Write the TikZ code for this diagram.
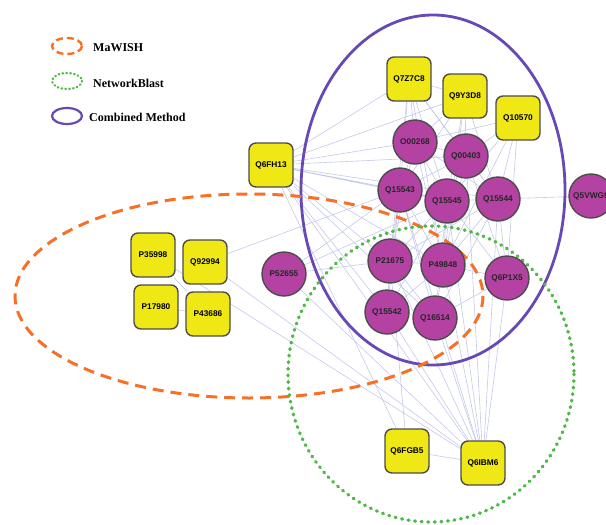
\documentclass[tikz,border=0pt]{standalone}
\usepackage{fontspec}
\setmainfont{Liberation Serif}
\newfontfamily\protfont{Liberation Sans}
\usetikzlibrary{backgrounds}
\definecolor{protyellow}{RGB}{240,232,20}
\definecolor{protpurple}{RGB}{180,66,162}
\definecolor{edgeblue}{RGB}{196,200,234}
\definecolor{mawishorange}{RGB}{246,112,40}
\definecolor{netgreen}{RGB}{80,184,70}
\definecolor{combpurple}{RGB}{102,72,182}

\begin{document}
\begin{tikzpicture}[x=1pt,y=-1pt,
    sq/.style={draw=black!70,fill=protyellow,line width=1.4pt,rounded corners=7pt,minimum size=44pt,inner sep=0pt,font=\protfont\bfseries\fontsize{8.3}{9}\selectfont},
    ci/.style={circle,draw=black!70,fill=protpurple,line width=1.4pt,minimum size=44pt,inner sep=0pt,text=black!85,font=\protfont\bfseries\fontsize{8.3}{9}\selectfont},
    lnk/.style={draw=edgeblue,line width=0.6pt},
    mawish/.style={draw=mawishorange,line width=3pt,dash pattern=on 11pt off 7pt},
    nblast/.style={draw=netgreen,line width=3.4pt,line cap=round,dash pattern=on 0.8pt off 5.8pt},
    comb/.style={draw=combpurple,line width=2.8pt},
    legtxt/.style={anchor=west,inner sep=0pt,font=\bfseries\fontsize{12}{14}\selectfont}]
        \useasboundingbox (0,0) rectangle (606,525);
        % legend
        \draw[mawish,line width=2.4pt,dash pattern=on 7pt off 4pt] (67,46) ellipse (15 and 8);
        \draw[nblast,line width=2.4pt,dash pattern=on 0.5pt off 3.4pt] (67,81) ellipse (15 and 8);
        \draw[comb,line width=2.2pt] (67,116) ellipse (15 and 8);
        \node[legtxt] (l_mawish) at (93,48) {MaWISH};
        \node[legtxt] (l_nblast) at (93,83) {NetworkBlast};
        \node[legtxt] (l_comb) at (89,117) {Combined Method};
        % yellow proteins
        \draw (409,79) node[sq] (q7z7c8){Q7Z7C8};
        \draw (465,96) node[sq] (q9y3d8){Q9Y3D8};
        \draw (518,118) node[sq] (q10570){Q10570};
        \draw (271,165) node[sq] (q6fh13){Q6FH13};
        \draw (153,255) node[sq] (p35998){P35998};
        \draw (205,262) node[sq] (q92994){Q92994};
        \draw (156,307) node[sq] (p17980){P17980};
        \draw (208,314) node[sq] (p43686){P43686};
        \draw (407,451) node[sq] (q6fgb5){Q6FGB5};
        \draw (483,463) node[sq] (q6ibm6){Q6IBM6};
        % purple proteins
        \draw (415,142) node[ci] (o00268){O00268};
        \draw (466,156) node[ci] (q00403){Q00403};
        \draw (400,190) node[ci] (q15543){Q15543};
        \draw (447,201) node[ci] (q15545){Q15545};
        \draw (498,199) node[ci] (q15544){Q15544};
        \draw (591,196) node[ci] (q5vwg9){Q5VWG9};
        \draw (390,261) node[ci] (p21675){P21675};
        \draw (443,265) node[ci] (p49848){P49848};
        \draw (507,278) node[ci] (q6p1x5){Q6P1X5};
        \draw (387,312) node[ci] (q15542){Q15542};
        \draw (435,318) node[ci] (q16514){Q16514};
        \draw (284,274) node[ci] (p52655){P52655};
        \begin{pgfonlayer}{background}
        % interactions
        \draw[lnk] (q7z7c8) -- (o00268) (q7z7c8) -- (q00403) (q7z7c8) -- (q15543) (q7z7c8) -- (q15545);
        \draw[lnk] (q7z7c8) -- (q15544) (q7z7c8) -- (p21675) (q7z7c8) -- (p49848) (q7z7c8) -- (q6fh13) (q7z7c8) -- (q9y3d8);
        \draw[lnk] (q9y3d8) -- (o00268) (q9y3d8) -- (q00403) (q9y3d8) -- (q15545) (q9y3d8) -- (q15544);
        \draw[lnk] (q9y3d8) -- (q15543) (q9y3d8) -- (q6fh13) (q9y3d8) -- (p49848);
        \draw[lnk] (q10570) -- (q00403) (q10570) -- (q15544) (q10570) -- (q15545) (q10570) -- (q6p1x5) (q10570) -- (p49848) (q10570) -- (o00268);
        \draw[lnk] (q6fh13) -- (o00268) (q6fh13) -- (q00403) (q6fh13) -- (q15543) (q6fh13) -- (q15545) (q6fh13) -- (q15544);
        \draw[lnk] (q6fh13) -- (p21675) (q6fh13) -- (p49848) (q6fh13) -- (q15542) (q6fh13) -- (q16514) (q6fh13) -- (q6fgb5) (q6fh13) -- (q6ibm6);
        \draw[lnk] (q5vwg9) -- (q15544);
        \draw[lnk] (o00268) -- (q00403) (o00268) -- (q15543) (o00268) -- (q15545) (o00268) -- (q15544) (o00268) -- (p21675) (o00268) -- (p49848);
        \draw[lnk] (q00403) -- (q15543) (q00403) -- (q15545) (q00403) -- (q15544) (q00403) -- (p49848) (q00403) -- (q6p1x5) (q00403) -- (q6ibm6);
        \draw[lnk] (q15543) -- (q15545) (q15543) -- (p21675) (q15543) -- (p49848) (q15543) -- (q15542) (q15543) -- (q16514) (q15543) -- (q6ibm6);
        \draw[lnk] (q15545) -- (q15544) (q15545) -- (p21675) (q15545) -- (p49848) (q15545) -- (q6p1x5) (q15545) -- (q15542) (q15545) -- (q16514) (q15545) -- (q6ibm6);
        \draw[lnk] (q15544) -- (p49848) (q15544) -- (q6p1x5) (q15544) -- (q16514) (q15544) -- (q6ibm6) (q15544) -- (p21675);
        \draw[lnk] (p21675) -- (p49848) (p21675) -- (q15542) (p21675) -- (q16514) (p21675) -- (q6fgb5) (p21675) -- (q6ibm6);
        \draw[lnk] (p49848) -- (q6p1x5) (p49848) -- (q15542) (p49848) -- (q16514) (p49848) -- (q6ibm6);
        \draw[lnk] (q6p1x5) -- (q16514) (q6p1x5) -- (q6ibm6) (q15542) -- (q16514) (q15542) -- (q6ibm6) (q16514) -- (q6ibm6);
        \draw[lnk] (p52655) -- (q15543) (p52655) -- (q15545) (p52655) -- (p21675) (p52655) -- (q6ibm6);
        \draw[lnk] (q6fgb5) -- (q6ibm6);
        \draw[lnk] (p35998) -- (q6ibm6) (q92994) -- (q15543) (q92994) -- (q6ibm6) (p17980) -- (p43686) (p35998) -- (p43686);
        % method results
        \draw[comb] (433,190) ellipse (132 and 175);
        \draw[mawish] (249,296) ellipse (234 and 102);
        \draw[nblast] (431,374) ellipse (143 and 148);
        \end{pgfonlayer}
\end{tikzpicture}
\end{document}
